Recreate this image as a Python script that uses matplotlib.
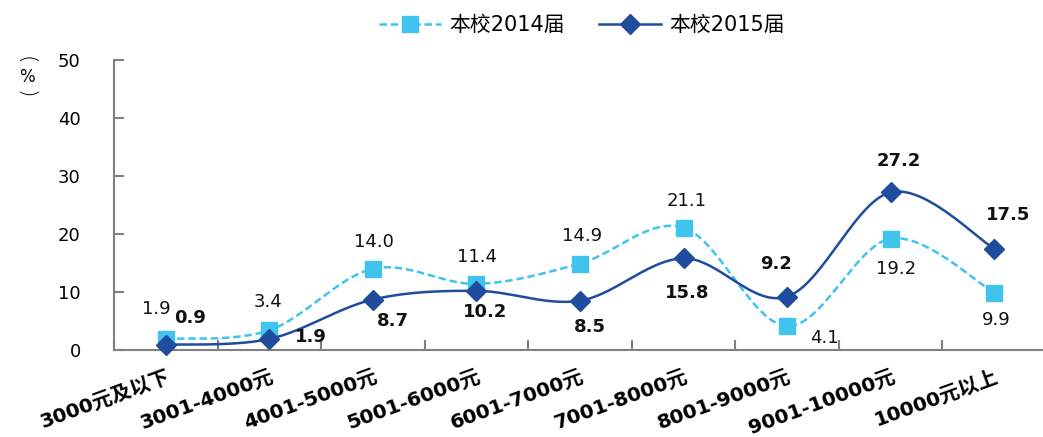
import numpy as np
import matplotlib
matplotlib.use("Agg")
import matplotlib.pyplot as plt

plt.rcParams['font.family'] = ['DejaVu Sans', 'Noto Sans CJK SC']

categories = ['3000元及以下', '3001-4000元', '4001-5000元', '5001-6000元', '6001-7000元',
              '7001-8000元', '8001-9000元', '9001-10000元', '10000元以上']
y2014 = [1.9, 3.4, 14.0, 11.4, 14.9, 21.1, 4.1, 19.2, 9.9]
y2015 = [0.9, 1.9, 8.7, 10.2, 8.5, 15.8, 9.2, 27.2, 17.5]

# label offsets in pixels (dx, dy)
off2014 = [(-9, 30), (-1, 28), (1, 27), (1, 27), (2, 28), (3, 27), (37, -12), (5, -30), (2, -27)]
off2015 = [(24, 27), (42, 2), (20, -21), (9, -21), (10, -26), (4, -35), (-11, 33), (8, 31), (14, 34)]

c14 = '#40C4EE'
c15 = '#1F4C9C'


def smooth(x, y, n=30):
    # Catmull-Rom style smoothing (like Excel's smoothed line)
    x = np.asarray(x, float)
    y = np.asarray(y, float)
    px = np.concatenate([[x[0]], x, [x[-1]]])
    py = np.concatenate([[y[0]], y, [y[-1]]])
    xs, ys = [], []
    t = np.linspace(0, 1, n)
    for i in range(1, len(px) - 2):
        p0, p1, p2, p3 = (np.array([px[j], py[j]]) for j in (i - 1, i, i + 1, i + 2))
        b1 = p1 + (p2 - p0) / 6
        b2 = p2 - (p3 - p1) / 6
        pts = ((1 - t) ** 3)[:, None] * p1 + (3 * (1 - t) ** 2 * t)[:, None] * b1 \
            + (3 * (1 - t) * t ** 2)[:, None] * b2 + (t ** 3)[:, None] * p2
        xs.extend(pts[:, 0])
        ys.extend(pts[:, 1])
    return np.array(xs), np.array(ys)


fig = plt.figure(figsize=(10.43, 4.37), dpi=100)
ax = fig.add_axes([114 / 1043, 87 / 437, 932 / 1043, 290 / 437])

x = np.arange(len(categories))

sx, sy = smooth(x, y2014)
ax.plot(sx, sy, color=c14, lw=1.8, ls=(0, (3, 1.5)), zorder=2, clip_on=False)
ax.plot(x, y2014, ls='none', marker='s', ms=11, color=c14, zorder=3, clip_on=False)
sx, sy = smooth(x, y2015)
ax.plot(sx, sy, color=c15, lw=1.8, zorder=4, clip_on=False)
ax.plot(x, y2015, ls='none', marker='D', ms=10, color=c15, zorder=5, clip_on=False)

for i, v in enumerate(y2014):
    ax.annotate(f'{v:.1f}', (x[i], v), xytext=off2014[i], textcoords='offset pixels',
                ha='center', va='center', fontsize=13, color='#111111', zorder=6)
for i, v in enumerate(y2015):
    ax.annotate(f'{v:.1f}', (x[i], v), xytext=off2015[i], textcoords='offset pixels',
                ha='center', va='center', fontsize=13, fontweight='bold', color='#111111', zorder=6)

ax.set_xlim(-0.5, len(categories) - 0.5)
ax.set_ylim(0, 50)
ax.set_yticks(range(0, 51, 10))
ax.set_xticks(np.arange(-0.5, len(categories), 1.0), minor=False)
ax.set_xticklabels([])
ax.set_xticks(x, minor=True)
ax.set_xticklabels(categories, minor=True, rotation=20, ha='right', rotation_mode='anchor',
                   fontsize=14.5, fontweight='bold')
ax.tick_params(axis='x', which='minor', length=0, pad=12)
ax.tick_params(axis='x', which='major', direction='in', length=7, color='#808080', width=1.5)
ax.tick_params(axis='y', direction='in', length=7, color='#808080', width=1.5,
               labelsize=13, pad=24)

for s in ['top', 'right']:
    ax.spines[s].set_visible(False)
for s in ['left', 'bottom']:
    ax.spines[s].set_color('#808080')
    ax.spines[s].set_linewidth(1.5)

# vertical "(%)" unit label: brackets turned, percent sign upright
fig.text(26 / 1043, 1 - 60 / 437, '(', rotation=-90, ha='center', va='center', fontsize=16,
         fontweight='light')
fig.text(27 / 1043, 1 - 77 / 437, '%', ha='center', va='center', fontsize=12)
fig.text(26 / 1043, 1 - 94 / 437, ')', rotation=-90, ha='center', va='center', fontsize=16,
         fontweight='light')

h1 = plt.Line2D([], [], color=c14, lw=1.8, ls=(0, (3, 1.5)), marker='s', ms=11)
h2 = plt.Line2D([], [], color=c15, lw=1.8, marker='D', ms=10)
fig.legend([h1, h2], ['本校2014届', '本校2015届'], loc='center', bbox_to_anchor=(0.558, 0.943),
           ncol=2, frameon=False, fontsize=15, handlelength=3.0, handletextpad=0.4,
           columnspacing=1.6)

fig.savefig('out.png', dpi=100)
